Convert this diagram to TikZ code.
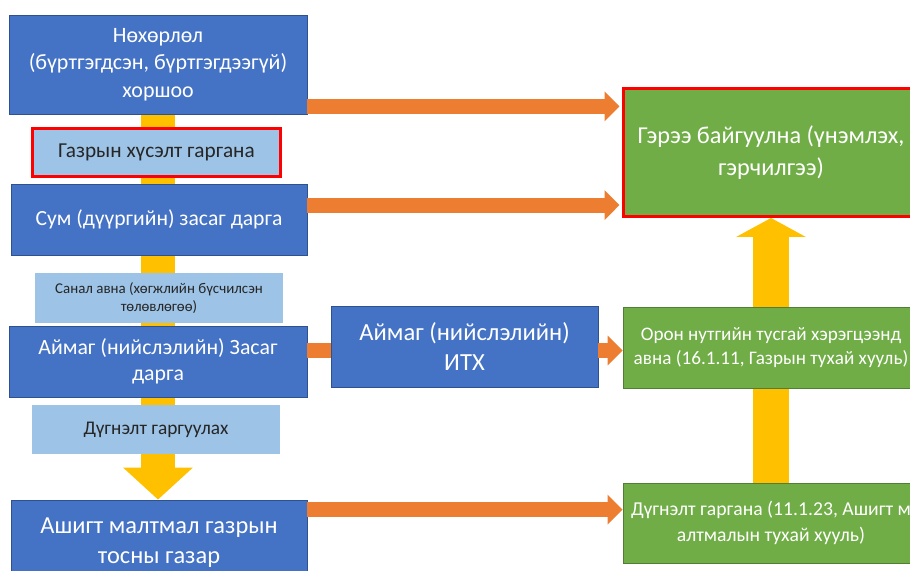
\documentclass[tikz,border=0pt]{standalone}
\usepackage{fontspec}
\setmainfont{Carlito}
\usepackage{tikz}
\usetikzlibrary{arrows.meta, backgrounds}

\definecolor{boxblue}{HTML}{4472C4}
\definecolor{boxblueline}{HTML}{2F528F}
\definecolor{paleblue}{HTML}{9DC3E6}
\definecolor{boxgreen}{HTML}{70AD47}
\definecolor{boxgreenline}{HTML}{507E32}
\definecolor{arroworange}{HTML}{ED7D31}
\definecolor{arrowyellow}{HTML}{FFC000}

\begin{document}
\begin{tikzpicture}[
		x=0.02cm, y=-0.02cm,
		every node/.style={rectangle, align=center, inner sep=2pt},
		bluebox/.style={fill=boxblue, draw=boxblueline, line width=0.5pt, text=white},
		palebox/.style={fill=paleblue, text=black!85},
		greenbox/.style={fill=boxgreen, draw=boxgreenline, line width=0.5pt, text=white},
		redline/.style={draw=red, line width=1.7pt},
		oarrow/.style={draw=arroworange, line width=0.3cm, -{Triangle[length=0.3cm, width=0.58cm]}},
		obar/.style={draw=arroworange, line width=0.3cm},
		yarrow/.style={draw=arrowyellow, line width=0.68cm, -{Triangle[length=0.64cm, width=1.36cm]}},
		yarrowb/.style={draw=arrowyellow, line width=0.72cm, -{Triangle[length=0.38cm, width=1.38cm]}}
	]
  \useasboundingbox (0,0) rectangle (910,571);
  % left column
  \node (nox) [bluebox, minimum width=5.96cm, minimum height=1.98cm, font=\fontsize{12.5}{15.5}\selectfont] at (158, 64.5)
    {Нөхөрлөл\\(бүртгэгдсэн, бүртгэгдээгүй)\\хоршоо};
  \node (req) [palebox, redline, minimum width=4.96cm, minimum height=0.96cm, font=\fontsize{12.1}{15}\selectfont] at (156.5, 152.5)
    {Газрын хүсэлт гаргана};
  \node (sum) [bluebox, minimum width=5.92cm, minimum height=1.42cm, font=\fontsize{12.3}{15}\selectfont] at (159, 219.5)
    {Сум (дүүргийн) засаг дарга};
  \node (sanal) [palebox, minimum width=4.96cm, minimum height=1cm, font=\fontsize{8.5}{10.5}\selectfont] at (159, 298)
    {Санал авна (хөгжлийн бүсчилсэн\\төлөвлөгөө)};
  \node (aimag) [bluebox, minimum width=5.96cm, minimum height=1.42cm, font=\fontsize{12.4}{14.5}\selectfont] at (158, 361.5)
    {Аймаг (нийслэлийн) Засаг\\дарга};
  \node (dugn) [palebox, minimum width=4.96cm, minimum height=0.98cm, font=\fontsize{11}{13}\selectfont] at (156, 429.5)
    {Дүгнэлт гаргуулах};
  \node (ashigt) [bluebox, minimum width=5.92cm, minimum height=1.7cm, font=\fontsize{13.9}{17}\selectfont] at (159, 542.5)
    {Ашигт малтмал газрын\\тосны газар};
  % middle
  \node (itx) [bluebox, minimum width=5.34cm, minimum height=1.62cm, font=\fontsize{14}{17}\selectfont] at (464.5, 346.5)
    {Аймаг (нийслэлийн)\\ИТХ};
  % right column
  \node (geree) [greenbox, redline, minimum width=5.9cm, minimum height=2.56cm, font=\fontsize{13.8}{18}\selectfont] at (771, 152.5)
    {Гэрээ байгуулна (үнэмлэх,\\гэрчилгээ)};
  \node (oron) [greenbox, minimum width=5.92cm, minimum height=1.62cm, font=\fontsize{10.9}{13.5}\selectfont] at (771, 347.5)
    {Орон нутгийн тусгай хэрэгцээнд\\авна (16.1.11, Газрын тухай хууль)};
  \node (dugng) [greenbox, minimum width=5.92cm, minimum height=1.6cm, font=\fontsize{11.2}{14.5}\selectfont] at (771, 523)
    {Дүгнэлт гаргана (11.1.23, Ашигт м\\алтмалын тухай хууль)};

  \begin{scope}[on background layer]
    \draw (nox.south) edge [yarrow] (nox.south |- ashigt.north);
    \draw (dugng.north) edge [yarrowb] (geree.south);
  \end{scope}

  \coordinate (a1) at ([yshift=0.16cm]nox.south east);
  \coordinate (a2) at ([yshift=0.29cm]sum.east);
  \coordinate (a3) at ([yshift=0.22cm]aimag.east);
  \coordinate (a4) at ([yshift=-0.2cm]ashigt.north east);
  \draw (a1) edge [oarrow, shorten >=0.05cm] (a1 -| geree.west);
  \draw (a2) edge [oarrow, shorten >=0.05cm] (a2 -| geree.west);
  \draw (a3) edge [obar] (a3 -| itx.west);
  \draw (a3 -| itx.east) edge [oarrow] (a3 -| oron.west);
  \draw (a4) edge [oarrow] (a4 -| dugng.west);
\end{tikzpicture}
\end{document}
